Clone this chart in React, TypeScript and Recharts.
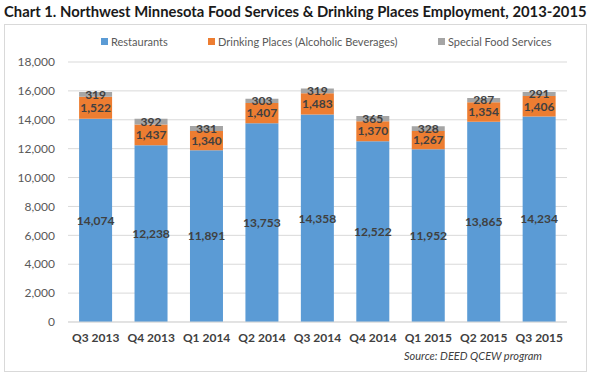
import React from "react";
import { BarChart, Bar, XAxis, YAxis, CartesianGrid, LabelList } from "recharts";

const quarters = ["Q3 2013", "Q4 2013", "Q1 2014", "Q2 2014", "Q3 2014", "Q4 2014", "Q1 2015", "Q2 2015", "Q3 2015"];
const restaurants = [14074, 12238, 11891, 13753, 14358, 12522, 11952, 13865, 14234];
const drinking = [1522, 1437, 1340, 1407, 1483, 1370, 1267, 1354, 1406];
const special = [319, 392, 331, 303, 319, 365, 328, 287, 291];
const yTicks = [0, 2000, 4000, 6000, 8000, 10000, 12000, 14000, 16000, 18000];

const SERIES = [
  { key: "restaurants", name: "Restaurants", color: "#5B9BD5", x: 101 },
  { key: "drinking", name: "Drinking Places (Alcoholic Beverages)", color: "#ED7D31", x: 208 },
  { key: "special", name: "Special Food Services", color: "#A5A5A5", x: 438 },
];

const FONT = "Lato, 'Open Sans', sans-serif";
const fmt = (v: any) => Number(v).toLocaleString("en-US");

export default function App() {
  const data = quarters.map((q, i) => ({
    quarter: q,
    restaurants: restaurants[i],
    drinking: drinking[i],
    special: special[i],
  }));

  const labelStyle = { fill: "#404040", fontSize: 12, fontWeight: 700, fontFamily: FONT };

  return (
    <div style={{ position: "relative", width: 589, height: 376, background: "#fff", fontFamily: FONT, overflow: "hidden" }}>
      <style>{`body{margin:0}`}</style>
      <div style={{ position: "absolute", left: 4, top: 2, fontSize: 14.8, fontWeight: 700, color: "#1a1a1a", whiteSpace: "nowrap" }}>
        Chart 1. Northwest Minnesota Food Services &amp; Drinking Places Employment, 2013-2015
      </div>
      <div style={{ position: "absolute", left: 4, top: 24, width: 581, height: 346, border: "1px solid #D9D9D9" }} />
      {SERIES.map((s) => (
        <div key={s.key} style={{ position: "absolute", left: s.x, top: 35, fontSize: 11, color: "#595959", whiteSpace: "nowrap", display: "flex", alignItems: "center" }}>
          <span style={{ display: "inline-block", width: 7, height: 7, background: s.color, marginRight: 3 }} />
          {s.name}
        </div>
      ))}
      <div style={{ position: "absolute", left: 404, top: 349, fontSize: 11, fontStyle: "italic", color: "#404040", whiteSpace: "nowrap" }}>
        Source: DEED QCEW program
      </div>
      <div style={{ position: "absolute", left: 0, top: 0 }}>
        <BarChart width={589} height={376} data={data} margin={{ top: 62, right: 22, bottom: 24, left: 0 }} barCategoryGap="20%">
          <CartesianGrid stroke="#D9D9D9" vertical={false} />
          <XAxis
            dataKey="quarter"
            height={30}
            tickLine={false}
            axisLine={{ stroke: "#D9D9D9" }}
            tickMargin={5}
            interval={0}
            tick={{ fill: "#404040", fontSize: 12, fontWeight: 700, fontFamily: FONT }}
          />
          <YAxis
            width={68}
            domain={[0, 18000]}
            ticks={yTicks}
            tickFormatter={fmt}
            axisLine={false}
            tickLine={false}
            tickMargin={7}
            tick={{ fill: "#595959", fontSize: 12, fontFamily: FONT }}
          />
          {SERIES.map((s) => (
            <Bar key={s.key} dataKey={s.key} stackId="a" fill={s.color} isAnimationActive={false}>
              <LabelList dataKey={s.key} position="center" formatter={fmt} style={labelStyle} />
            </Bar>
          ))}
        </BarChart>
      </div>
    </div>
  );
}
